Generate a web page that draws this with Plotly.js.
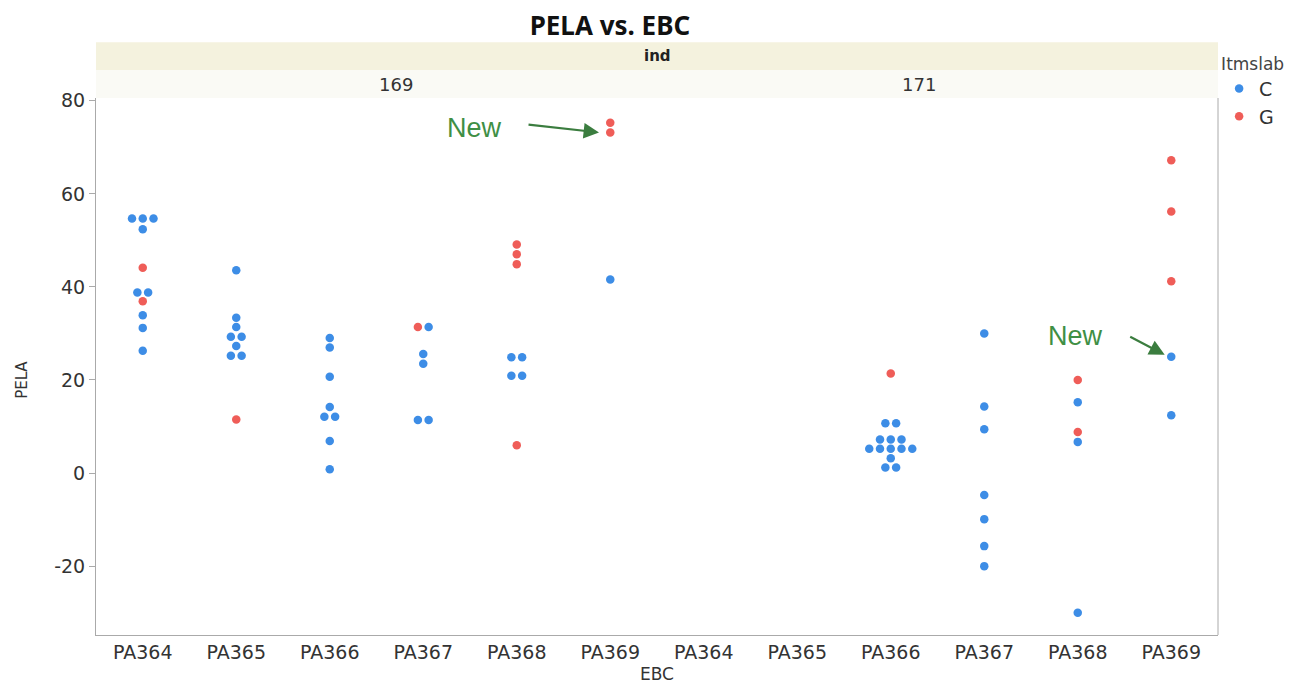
<!DOCTYPE html>
<html>
<head>
<meta charset="utf-8">
<script src="https://cdn.plot.ly/plotly-3.0.1.min.js"></script>
<style>html,body{margin:0;padding:0;background:#fff;}#chart{width:1306px;height:685px;}</style>
</head>
<body>
<div id="chart"></div>
<script>
// ---- data ----
const categories = ['PA364', 'PA365', 'PA366', 'PA367', 'PA368', 'PA369'];
const panels = ['169', '171'];
const seriesNames = ['C', 'G'];
const yTicks = [-20, 0, 20, 40, 60, 80];
const yTickText = ['-20', '0', '20', '40', '60', '80'];

// PELA values per EBC category (index matches categories)
const pelaC169 = [
  [54.7, 54.7, 54.7, 52.4, 38.8, 38.8, 33.9, 31.2, 26.3],
  [43.6, 33.4, 31.4, 29.3, 29.3, 27.3, 25.2, 25.2],
  [29.0, 27.0, 20.7, 14.2, 12.1, 12.1, 6.9, 0.8],
  [31.4, 25.6, 23.5, 11.4, 11.4],
  [24.9, 24.9, 20.9, 20.9],
  [41.6]
];
const pelaG169 = [
  [44.1, 36.9],
  [11.5],
  [],
  [31.4],
  [49.1, 47.0, 44.9, 6.0],
  [75.3, 73.2]
];
const pelaC171 = [
  [],
  [],
  [10.7, 10.7, 7.2, 7.2, 7.2, 5.2, 5.2, 5.2, 5.2, 5.2, 3.2, 1.2, 1.2],
  [30.0, 14.3, 9.4, -4.7, -9.9, -15.7, -20.0],
  [15.2, 6.7, -30.0],
  [25.0, 12.4]
];
const pelaG171 = [
  [],
  [],
  [21.4],
  [],
  [20.0, 8.8],
  [67.2, 56.2, 41.2]
];

const colorC = '#3d8de6';
const colorG = '#ef5d58';
const FONT = 'DejaVu Sans, sans-serif';
const TFONT = 'Noto Sans, sans-serif';

// beeswarm-like horizontal spread of points sharing the same value
function swarm(cList, gList) {
  const step = 0.115;
  const out = {cx: [], cy: [], gx: [], gy: []};
  categories.forEach((cat, i) => {
    const pts = [];
    gList[i].forEach(v => pts.push({s: 'g', v: v}));
    cList[i].forEach(v => pts.push({s: 'c', v: v}));
    const rows = {};
    pts.forEach(p => { const k = p.v.toFixed(1); (rows[k] = rows[k] || []).push(p); });
    Object.values(rows).forEach(row => {
      const n = row.length;
      row.forEach((p, j) => {
        const x = i + (j - (n - 1) / 2) * step;
        if (p.s === 'c') { out.cx.push(x); out.cy.push(p.v); }
        else { out.gx.push(x); out.gy.push(p.v); }
      });
    });
  });
  return out;
}

const s169 = swarm(pelaC169, pelaG169);
const s171 = swarm(pelaC171, pelaG171);

const mk = (c) => ({color: c, size: 8.5, line: {width: 0}});
const traces = [
  {type: 'scatter', mode: 'markers', name: seriesNames[0], legendgroup: 'C', x: s169.cx, y: s169.cy, xaxis: 'x', yaxis: 'y', marker: mk(colorC)},
  {type: 'scatter', mode: 'markers', name: seriesNames[1], legendgroup: 'G', x: s169.gx, y: s169.gy, xaxis: 'x', yaxis: 'y', marker: mk(colorG)},
  {type: 'scatter', mode: 'markers', name: seriesNames[0], legendgroup: 'C', showlegend: false, x: s171.cx, y: s171.cy, xaxis: 'x2', yaxis: 'y', marker: mk(colorC)},
  {type: 'scatter', mode: 'markers', name: seriesNames[1], legendgroup: 'G', showlegend: false, x: s171.gx, y: s171.gy, xaxis: 'x2', yaxis: 'y', marker: mk(colorG)}
];

const tickFont = {family: FONT, size: 19, color: '#333'};
const xBase = {
  range: [-0.5, 5.5], tickvals: categories.map((c, i) => i), ticktext: categories,
  showgrid: false, zeroline: false, showline: true, linecolor: '#aaa', linewidth: 1,
  ticks: '', tickfont: tickFont, anchor: 'y', fixedrange: true
};

const layout = {
  width: 1306, height: 685,
  margin: {l: 96, r: 88, t: 98, b: 50},
  paper_bgcolor: '#fff', plot_bgcolor: '#fff',
  title: {text: '<b>PELA vs. EBC</b>', x: 0.467, xanchor: 'center', y: 0.962, yanchor: 'middle',
          font: {family: TFONT, size: 26, color: '#111'}},
  xaxis: Object.assign({}, xBase, {domain: [0, 0.5]}),
  xaxis2: Object.assign({}, xBase, {domain: [0.5, 1]}),
  yaxis: {
    range: [-34.8, 80.6], tickvals: yTicks, ticktext: yTickText,
    showgrid: false, zeroline: false, showline: true, linecolor: '#aaa', linewidth: 1,
    ticks: 'outside', ticklen: 6, tickcolor: '#aaa', tickfont: tickFont
  },
  showlegend: true,
  legend: {
    x: 1.001, y: 1.094, xanchor: 'left', yanchor: 'top', tracegroupgap: 0,
    title: {text: 'Itmslab', font: {family: FONT, size: 17, color: '#444'}},
    font: {family: FONT, size: 19, color: '#333'},
    itemsizing: 'trace', itemwidth: 30, bgcolor: 'rgba(0,0,0,0)'
  },
  shapes: [
    {type: 'rect', xref: 'paper', yref: 'paper', x0: 0, x1: 1, y0: 1.052, y1: 1.104, fillcolor: '#f4f2de', line: {width: 0}, layer: 'below'},
    {type: 'rect', xref: 'paper', yref: 'paper', x0: 0, x1: 1, y0: 1.0, y1: 1.052, fillcolor: '#fafaf5', line: {width: 0}, layer: 'below'},
    {type: 'line', xref: 'paper', yref: 'paper', x0: 1, x1: 1, y0: 0, y1: 1, line: {color: '#aaa', width: 1}}
  ],
  annotations: [
    {xref: 'paper', yref: 'paper', x: 0.5, y: 1.078, yanchor: 'middle', text: '<b>ind</b>', showarrow: false,
     font: {family: FONT, size: 15, color: '#222'}},
    {xref: 'paper', yref: 'paper', x: 0.25, y: 1.026, yanchor: 'middle', text: panels[0], showarrow: false,
     font: {family: FONT, size: 18, color: '#333'}},
    {xref: 'paper', yref: 'paper', x: 0.75, y: 1.026, yanchor: 'middle', text: panels[1], showarrow: false,
     font: {family: FONT, size: 18, color: '#333'}},
    {xref: 'paper', yref: 'paper', x: 0.5, y: -0.072, yanchor: 'middle', text: 'EBC', showarrow: false,
     font: {family: FONT, size: 17, color: '#333'}},
    {xref: 'paper', yref: 'paper', x: -0.066, y: 0.475, xanchor: 'center', yanchor: 'middle', textangle: -90,
     text: 'PELA', showarrow: false, font: {family: FONT, size: 15, color: '#333'}},
    // "New" labels with arrows
    {xref: 'x', yref: 'y', x: 3.55, y: 74.2, text: 'New', showarrow: false,
     font: {family: 'Liberation Sans, Arial, sans-serif', size: 27, color: '#3f8f45'}},
    {xref: 'x', yref: 'y', x: 4.88, y: 73.2, ax: -72, ay: -8, axref: 'pixel', ayref: 'pixel',
     text: '', showarrow: true, arrowhead: 2, arrowsize: 1.4, arrowwidth: 2.2, arrowcolor: '#3b7d3f'},
    {xref: 'x2', yref: 'y', x: 3.98, y: 29.5, text: 'New', showarrow: false,
     font: {family: 'Liberation Sans, Arial, sans-serif', size: 27, color: '#3f8f45'}},
    {xref: 'x2', yref: 'y', x: 4.93, y: 25.4, ax: -36, ay: -19, axref: 'pixel', ayref: 'pixel',
     text: '', showarrow: true, arrowhead: 2, arrowsize: 1.4, arrowwidth: 2.2, arrowcolor: '#3b7d3f'}
  ]
};

Plotly.newPlot('chart', traces, layout, {displayModeBar: false, staticPlot: true});
</script>
</body>
</html>
